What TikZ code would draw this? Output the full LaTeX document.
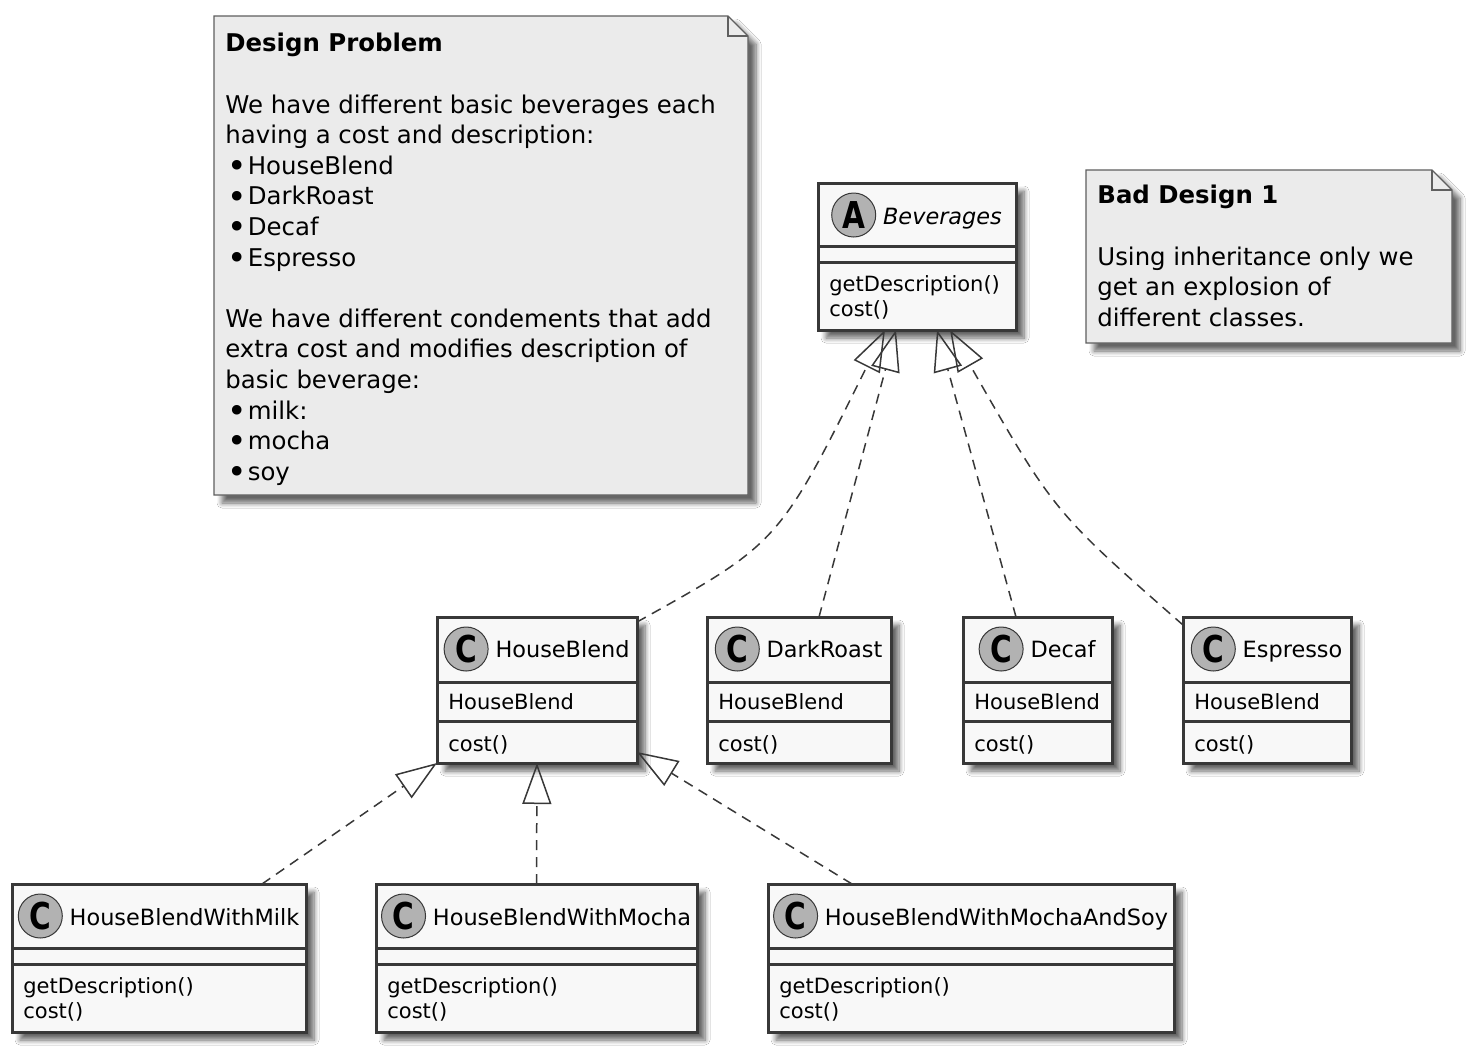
\documentclass[tikz,border=0pt]{standalone}
\usepackage{fontspec}
\usepackage{graphicx}
\setmainfont{DejaVu Sans}[ItalicFont={DejaVu Sans Oblique}]
\usetikzlibrary{arrows.meta,positioning,shadows.blur}
\definecolor{umlborder}{RGB}{56,56,56}
\definecolor{umlfill}{RGB}{248,248,248}
\definecolor{notefill}{RGB}{235,235,235}
\definecolor{noteborder}{RGB}{95,95,95}
\definecolor{spotfill}{RGB}{178,178,178}
\newcommand{\notebullet}{\hspace*{1pt}\raisebox{-0.13em}{\scalebox{1.35}{•}}\hspace{0.5pt}}

\begin{document}
\begin{tikzpicture}[x=0.5pt, y=-0.5pt,
    softshadow/.style={blur shadow={shadow xshift=4pt, shadow yshift=-4pt, shadow blur radius=2.5pt, shadow blur steps=8, shadow opacity=60}},
    classbox/.style={draw=umlborder, line width=1.5pt, fill=umlfill, anchor=north west, inner sep=0pt, outer sep=0pt, softshadow},
    notebox/.style={anchor=north west, inner sep=0pt, outer sep=0pt},
    notepath/.style={draw=noteborder, line width=0.7pt, fill=notefill, softshadow},
    notetext/.style={anchor=north west, inner sep=0pt, align=left, font=\fontsize{12.2}{15.3}\selectfont},
    classname/.style={anchor=base, inner sep=0pt, font=\fontsize{11.2}{13}\selectfont},
    member/.style={anchor=base west, inner sep=0pt, font=\fontsize{10.5}{12.5}\selectfont},
    spot/.style={circle, draw=umlborder, line width=0.5pt, fill=spotfill, minimum size=22pt, inner sep=0pt, font=\fontsize{18.5}{18.5}\bfseries},
    divline/.style={draw=umlborder, line width=1.5pt},
    realize/.style={draw=umlborder, line width=0.75pt, dash pattern=on 5pt off 3.5pt, -{Triangle[open, length=20.5pt, width=14.5pt]}},
  ]
  \path[use as bounding box, fill=white] (0,0) rectangle (1474,1051);

  % Notes
  \node[notebox, minimum width=267pt, minimum height=239.5pt] (problem) at (214,16) {};
  \draw[notepath] (problem.north west) -- ([xshift=-10pt]problem.north east) -- ([yshift=-10pt]problem.north east) -- (problem.south east) -- (problem.south west) -- cycle;
  \draw[noteborder, line width=0.7pt] ([xshift=-10pt]problem.north east) -- ([xshift=-10pt,yshift=-10pt]problem.north east) -- ([yshift=-10pt]problem.north east);
  \node[notetext] (problem-text) at (225,33) {\textbf{Design Problem}\\[15.3pt]
    We have different basic beverages each\\
    having a cost and description:\\
    \notebullet HouseBlend\\
    \notebullet DarkRoast\\
    \notebullet Decaf\\
    \notebullet Espresso\\[15.3pt]
    We have different condements that add\\
    extra cost and modifies description of\\
    basic beverage:\\
    \notebullet milk:\\
    \notebullet mocha\\
    \notebullet soy};

  \node[notebox, minimum width=183pt, minimum height=86.5pt] (baddesign) at (1086,170) {};
  \draw[notepath] (baddesign.north west) -- ([xshift=-10pt]baddesign.north east) -- ([yshift=-10pt]baddesign.north east) -- (baddesign.south east) -- (baddesign.south west) -- cycle;
  \draw[noteborder, line width=0.7pt] ([xshift=-10pt]baddesign.north east) -- ([xshift=-10pt,yshift=-10pt]baddesign.north east) -- ([yshift=-10pt]baddesign.north east);
  \node[notetext] (baddesign-text) at (1097,185) {\textbf{Bad Design 1}\\[15.3pt]
    Using inheritance only we\\
    get an explosion of\\
    different classes.};

  % Abstract class
  \node[classbox, minimum width=99pt, minimum height=73.5pt] (beverages) at (818,183) {};
  \draw[divline] (818,246) -- (1016,246);
  \draw[divline] (818,262) -- (1016,262);
  \node[classname] (beverages-name) at (942.5,224) {\itshape Beverages};
  \node[spot] (beverages-spot) at ([xshift=-14.5pt]beverages-name.west |- 0,215) {\scalebox{0.8}[1]{A}};
  \node[member] (beverages-desc) at (829,291) {getDescription()};
  \node[member] (beverages-cost) at (829,316) {cost()};

  % Concrete beverages
  \foreach \id/\xa/\xb/\name in {houseblend/437/637/HouseBlend, darkroast/707/891/DarkRoast, decaf/963/1112/Decaf, espresso/1183/1351/Espresso}{
    \node[classbox, minimum width={(\xb-\xa)*0.5pt}, minimum height=73pt] (\id) at (\xa,617) {};
    \draw[divline] (\xa,682) -- (\xb,682);
    \draw[divline] (\xa,721) -- (\xb,721);
    \node[classname] (\id-name) at ({(\xa+\xb)/2+25.5},657) {\name};
    \node[spot] (\id-spot) at ([xshift=-14.5pt]\id-name.west |- 0,649) {\scalebox{0.8}[1]{C}};
    \node[member] (\id-attr) at ({\xa+11},709) {HouseBlend};
    \node[member] (\id-cost) at ({\xa+11},751) {cost()};
  }

  % Condiment subclasses
  \foreach \id/\xa/\xb/\name in {milk/12/306/HouseBlendWithMilk, mocha/376/697/HouseBlendWithMocha, soy/768/1174/HouseBlendWithMochaAndSoy}{
    \node[classbox, minimum width={(\xb-\xa)*0.5pt}, minimum height=74pt] (\id) at (\xa,884) {};
    \draw[divline] (\xa,948) -- (\xb,948);
    \draw[divline] (\xa,964) -- (\xb,964);
    \node[classname] (\id-name) at ({(\xa+\xb)/2+25.5},925) {\name};
    \node[spot] (\id-spot) at ([xshift=-14.5pt]\id-name.west |- 0,916) {\scalebox{0.8}[1]{C}};
    \node[member] (\id-desc) at ({\xa+11},993) {getDescription()};
    \node[member] (\id-cost) at ({\xa+11},1018) {cost()};
  }

  % Realizations
  \draw[realize] ([yshift=-2.5pt]houseblend.north east) .. controls (779,543) .. ([xshift=-16pt]beverages.south);
  \draw[realize] ([xshift=10pt]darkroast.north) -- ([xshift=-10.5pt]beverages.south);
  \draw[realize] ([xshift=-10.75pt]decaf.north) -- ([xshift=10pt]beverages.south);
  \draw[realize] ([yshift=-4pt]espresso.north west) .. controls (1054,512) .. ([xshift=16.5pt]beverages.south);
  \draw[realize] ([xshift=51.5pt]milk.north) -- (houseblend.south west);
  \draw[realize] (mocha.north) -- (houseblend.south);
  \draw[realize] ([xshift=-59.5pt]soy.north) -- ([yshift=5.5pt]houseblend.south east);
\end{tikzpicture}
\end{document}
